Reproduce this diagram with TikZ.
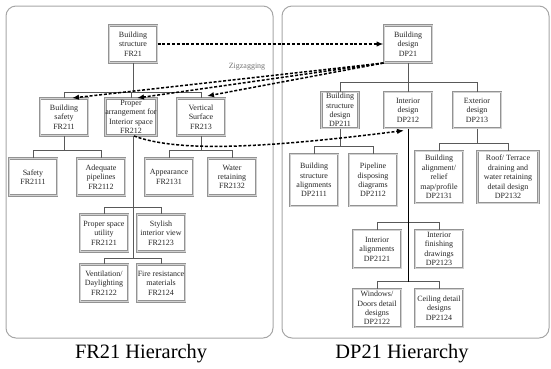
\documentclass[tikz,border=0pt]{standalone}
\usepackage{fontspec}
\setmainfont{Liberation Serif}
\usetikzlibrary{arrows.meta,calc}

\tikzset{
  panel/.style={draw=gray!70, line width=1pt, rounded corners=10pt},
  box/.style={draw=gray!85, double=gray!35, double distance=0.8pt, line width=1pt,
    fill=white, inner sep=0pt, align=center, text=black!85,
    font=\fontsize{8}{9.4}\selectfont, minimum width=48pt, minimum height=37pt},
  link/.style={draw=gray!70!black, line width=0.8pt},
  trace/.style={draw=black, line width=1.5pt, dash pattern=on 3pt off 1.8pt,
    -{Latex[length=7pt,width=5.5pt]}},
  title/.style={font=\fontsize{20.4}{24}\selectfont, text=black},
}

\begin{document}
\begin{tikzpicture}[x=1pt, y=-1pt]
\useasboundingbox (0,0) rectangle (551,368);

% the two hierarchy panels
\draw[panel] (6,6) rectangle (273,338);
\draw[panel] (282,6) rectangle (549,338);

% ---------------- FR side ----------------
\node[box] (FR21) at (133,44) {Building\\structure\\FR21};
\node[box] (FR211) at (64,117) {Building\\safety\\FR211};
\node[box, minimum width=51pt] (FR212) at (131,117) {Proper\\arrangement for\\Interior space\\FR212};
\node[box] (FR213) at (201,117) {Vertical\\Surface\\FR213};

\node[box] (FR2111) at (33,177) {Safety\\FR2111};
\node[box] (FR2112) at (101,177) {Adequate\\pipelines\\FR2112};
\node[box] (FR2131) at (169,177) {Appearance\\FR2131};
\node[box] (FR2132) at (232,177) {Water\\retaining\\FR2132};

\node[box] (FR2121) at (104,233) {Proper space\\utility\\FR2121};
\node[box] (FR2123) at (161,233) {Stylish\\interior view\\FR2123};
\node[box] (FR2122) at (104,283) {Ventilation/\\Daylighting\\FR2122};
\node[box] (FR2124) at (161,283) {Fire resistance\\materials\\FR2124};

% FR tree links
\coordinate (fa) at ($(FR212.north)+(0,-6)$);
\draw[link] (FR211.north) -- ++(0,-6) -| (FR213.north);
\draw[link] (FR212.north) -- (fa);
\draw[link] (FR21.south) -- (FR21.south |- fa);
\draw[link] (FR2111.north) -- ++(0,-8) -| (FR2112.north);
\draw[link] (FR211.south) -- ($(FR211.south |- FR2111.north)+(0,-8)$);
\draw[link] (FR2131.north) -- ++(0,-8) -| (FR2132.north);
\draw[link] (FR213.south) -- ($(FR213.south |- FR2131.north)+(0,-8)$);
\coordinate (fb1) at ($(FR2121.north)+(0,-7)$);
\coordinate (fb2) at ($(FR2122.north)+(0,-6)$);
\draw[link] (FR2121.north) -- (fb1) -| (FR2123.north);
\draw[link] (FR2122.north) -- (fb2) -| (FR2124.north);
\draw[link] ([xshift=2pt]FR212.south) -- ([xshift=2pt]FR212.south |- fb2);

% ---------------- DP side ----------------
\node[box] (DP21) at (408,44) {Building\\design\\DP21};
\node[box, minimum width=37pt, minimum height=36pt] (DP211) at (340,110) {Building\\structure\\design\\DP211};
\node[box, minimum height=36pt] (DP212) at (408,110) {Interior\\design\\DP212};
\node[box, minimum height=36pt] (DP213) at (477,110) {Exterior\\design\\DP213};

\node[box, minimum height=52pt] (DP2111) at (314,180) {Building\\structure\\alignments\\DP2111};
\node[box, minimum height=52pt] (DP2112) at (373,180) {Pipeline\\disposing\\diagrams\\DP2112};
\node[box, minimum height=52pt] (DP2131) at (439,177) {Building\\alignment/\\relief\\map/profile\\DP2131};
\node[box, minimum width=61pt, minimum height=52pt] (DP2132) at (508,177) {Roof/ Terrace\\draining and\\water retaining\\detail design\\DP2132};

\node[box, minimum height=38pt] (DP2121) at (377,249) {Interior\\alignments\\DP2121};
\node[box, minimum height=38pt] (DP2123) at (439,249) {Interior\\finishing\\drawings\\DP2123};
\node[box, minimum height=38pt] (DP2122) at (377,308) {Windows/\\Doors detail\\designs\\DP2122};
\node[box, minimum height=38pt] (DP2124) at (439,308) {Ceiling detail\\designs\\DP2124};

% DP tree links
\coordinate (da) at ($(DP212.north)+(0,-9)$);
\draw[link] (DP211.north) -- ++(0,-9) -| (DP213.north);
\draw[link] (DP212.north) -- (da);
\draw[link] (DP21.south) -- (DP21.south |- da);
\draw[link] (DP2111.north) -- ++(0,-7) -| (DP2112.north);
\draw[link] (DP211.south) -- ($(DP211.south |- DP2111.north)+(0,-7)$);
\draw[link] (DP2131.north) -- ++(0,-7) -| (DP2132.north);
\draw[link] (DP213.south) -- ($(DP213.south |- DP2131.north)+(0,-7)$);
\coordinate (db1) at ($(DP2121.north)+(0,-7)$);
\coordinate (db2) at ($(DP2122.north)+(0,-7)$);
\draw[link] (DP2121.north) -- (db1) -| (DP2123.north);
\draw[link] (DP2122.north) -- (db2) -| (DP2124.north);
\draw[link, draw=black] (DP212.south) -- (DP212.south |- db2);

% ---------------- zigzagging traces ----------------
\draw[trace] (FR21.east) -- (DP21.west);
\draw[trace] (DP21.south west) -- ([xshift=8pt]FR211.north);
\draw[trace] (DP21.south west) -- ([xshift=6pt]FR212.north);
\draw[trace] (DP21.south west) -- ([xshift=6pt,yshift=2pt]FR213.north);
\draw[trace] ([xshift=3pt]FR212.south) .. controls (175,151) and (250,150) .. ([xshift=-4pt,yshift=-2pt]DP212.south);
\node[font=\fontsize{8}{9.4}\selectfont, text=gray!90!black] (zz) at (247,67) {Zigzagging};

% ---------------- captions ----------------
\node[title] (capFR) at (141,354) {FR21 Hierarchy};
\node[title] (capDP) at (402,354) {DP21 Hierarchy};
\end{tikzpicture}
\end{document}
